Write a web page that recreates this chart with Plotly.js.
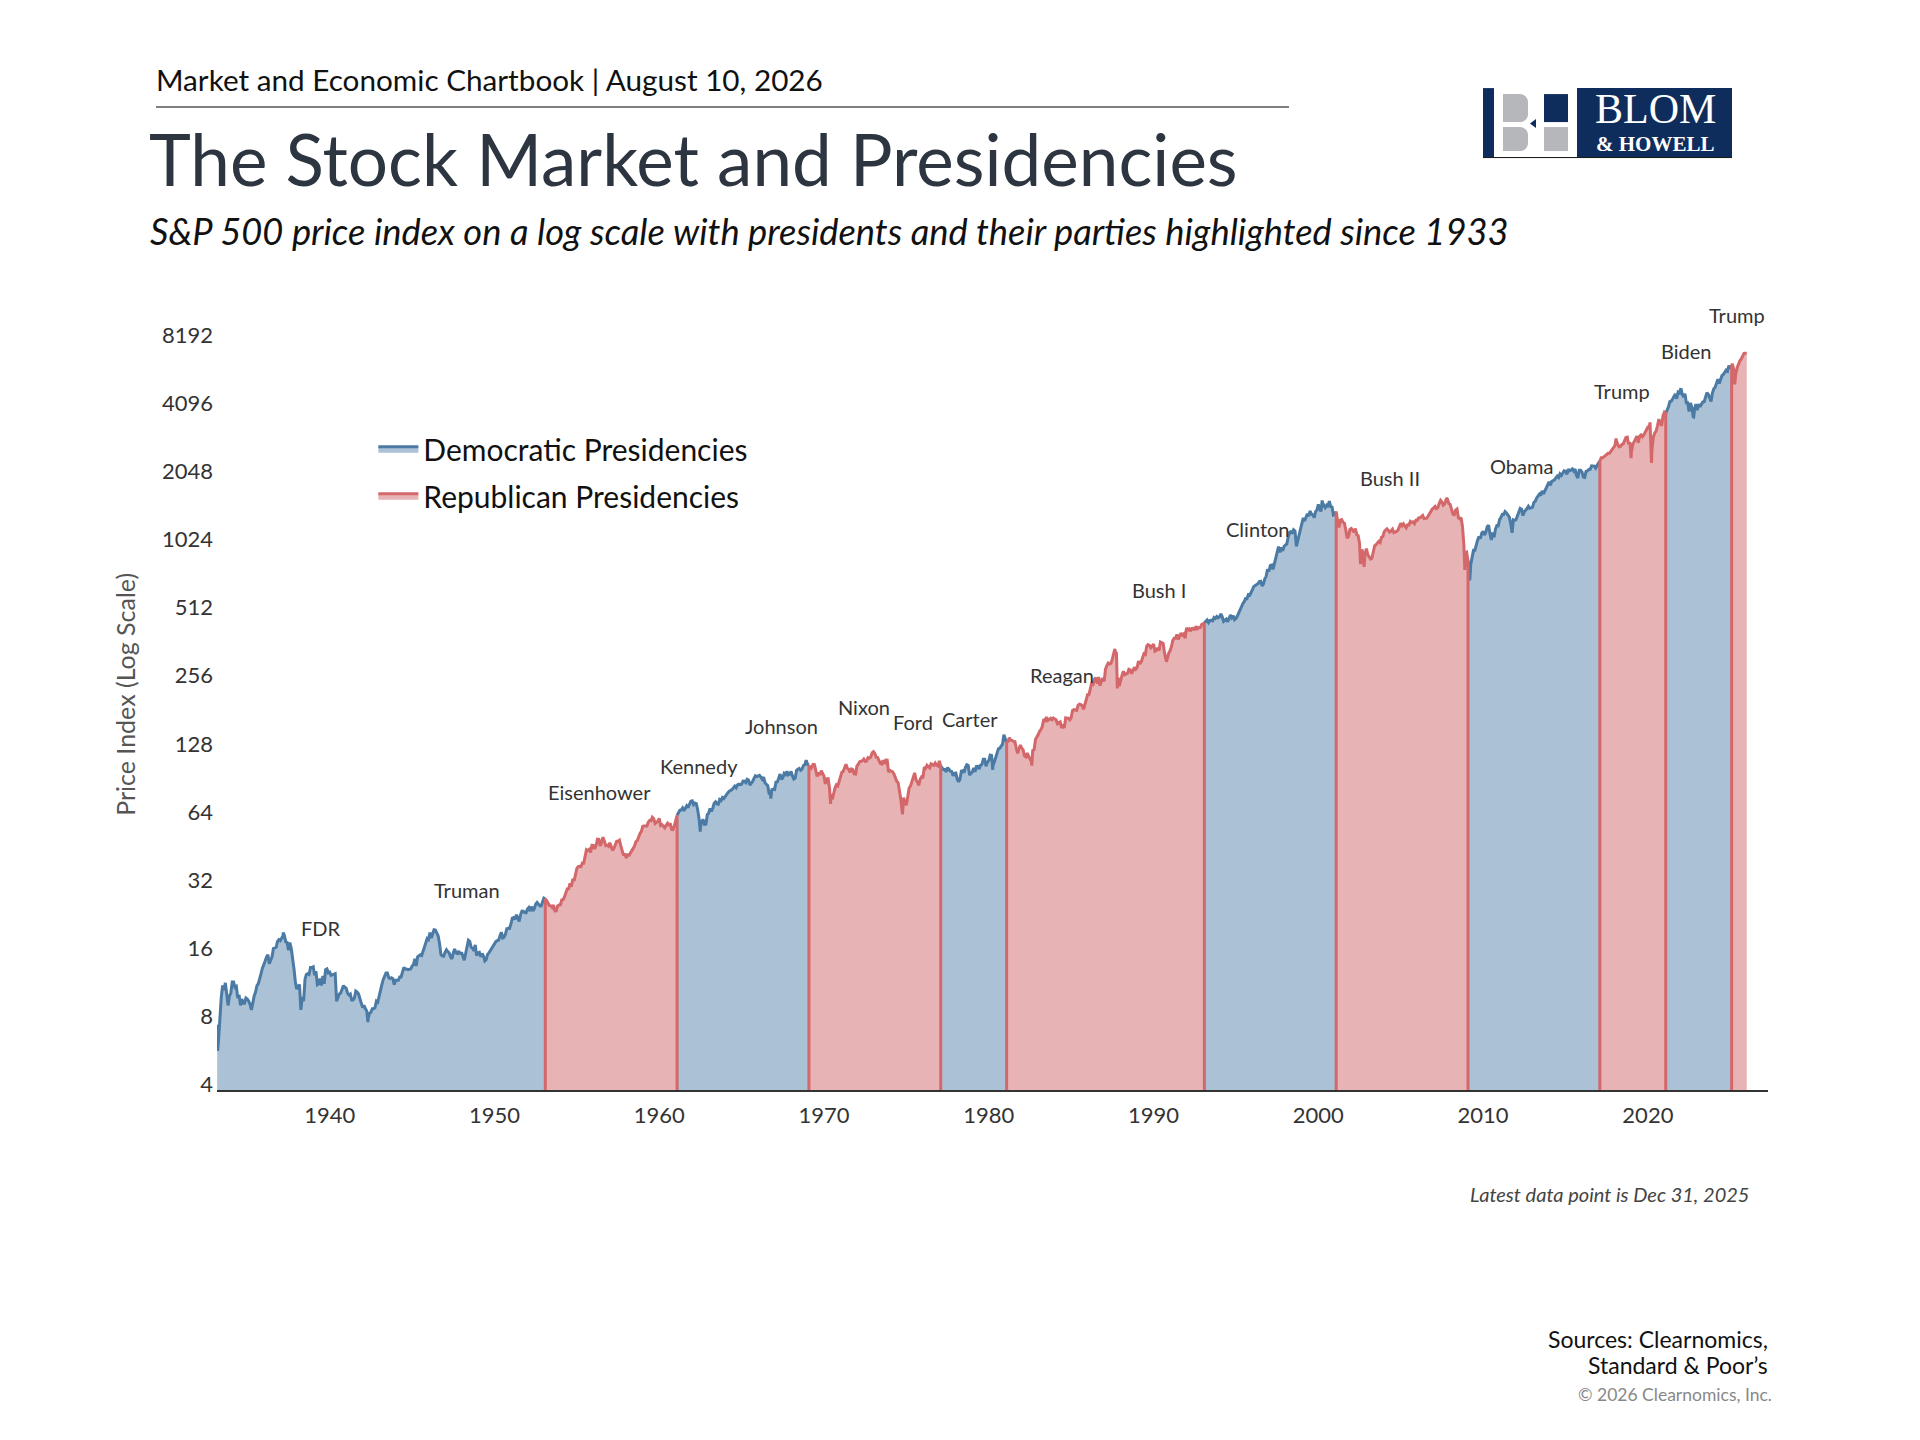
<!DOCTYPE html>
<html>
<head>
<meta charset="utf-8">
<script src="https://cdn.plot.ly/plotly-3.0.1.min.js"></script>
<style>
  html, body { margin: 0; padding: 0; background: #ffffff; }
  #chart { width: 1920px; height: 1440px; }
</style>
</head>
<body>
<div id="chart"></div>
<script>
// ---------------- DATA ----------------
// S&P 500 month-end closes, starting March 1933
const sp1930s = [6.2, 8.0, 9.6, 10.9, 10.4, 11.2, 9.8, 8.9, 9.8, 10.1,
  11.3, 11.3, 10.7, 10.8, 9.6, 9.9, 8.9, 9.5, 9.1, 9.1, 9.6, 9.5,
  9.3, 9.0, 8.5, 9.3, 9.8, 10.2, 10.9, 11.1, 11.6, 12.3, 13.0, 13.4,
  14.0, 14.6, 14.9, 13.6, 14.2, 14.6, 15.9, 16.0, 16.1, 17.1, 17.4, 17.2,
  17.6, 18.1, 18.1, 17.0, 16.9, 15.6, 16.9, 15.9, 13.8, 12.9, 11.3, 10.5,
  10.8, 11.0, 8.5, 9.7, 9.3, 11.6, 12.2, 12.3, 12.2, 13.1, 13.1, 13.2,
  12.1, 12.6, 11.0, 11.1, 11.7, 10.9, 12.0, 11.1, 12.8, 12.9, 12.4, 12.5];
const sp1940s = [12.1, 12.2, 12.2, 12.3, 9.3, 9.6, 10.0, 10.1, 10.5, 10.9, 10.7, 10.6,
  10.1, 9.9, 10.0, 9.4, 9.4, 9.6, 10.3, 10.2, 10.0, 9.4, 9.1, 8.7,
  8.9, 8.6, 8.4, 7.8, 8.2, 8.3, 8.6, 8.6, 8.7, 9.3, 9.2, 9.8,
  10.6, 11.0, 11.6, 12.1, 12.4, 12.4, 11.8, 11.7, 11.8, 11.7, 11.0, 11.5,
  11.5, 11.5, 11.9, 11.9, 12.5, 13.1, 12.9, 12.9, 12.8, 12.9, 12.9, 13.3,
  13.5, 14.3, 13.3, 14.6, 14.8, 14.9, 14.8, 15.5, 16.4, 17.0, 17.6, 17.4,
  18.7, 17.7, 18.7, 19.25, 19.2, 18.4, 18.05, 16.7, 14.96, 14.75, 14.69, 15.3,
  15.7, 15.4, 15.2, 14.6, 14.3, 15.2, 15.8, 15.2, 15.1, 15.5, 15.0, 15.3,
  14.7, 14.1, 15.1, 16.0, 17.3, 17.1, 16.1, 16.0, 15.5, 16.5, 14.8, 15.2,
  15.3, 14.6, 15.1, 14.7, 14.0, 14.2, 15.0, 15.2, 15.6, 16.0, 16.3, 16.8];
const sp1950s = [17.05, 17.22, 17.29, 18.07, 18.78, 17.69, 17.84, 18.42, 19.45, 19.53, 19.51, 20.41,
  21.66, 21.80, 21.40, 22.43, 21.52, 20.96, 22.40, 23.28, 23.26, 22.94, 22.88, 23.77,
  24.14, 23.26, 24.37, 23.32, 23.86, 24.96, 25.40, 25.03, 24.54, 24.52, 25.66, 26.57,
  26.38, 25.90, 25.29, 24.62, 24.54, 24.14, 24.75, 23.32, 23.35, 24.54, 24.76, 24.81,
  26.08, 26.15, 26.94, 28.26, 29.19, 29.21, 30.88, 29.83, 32.31, 31.68, 34.24, 35.98,
  36.63, 36.76, 36.58, 37.96, 37.91, 41.03, 43.52, 43.18, 43.67, 42.34, 45.51, 45.48,
  43.82, 45.34, 48.48, 48.38, 45.20, 46.97, 49.39, 47.51, 45.35, 45.58, 45.08, 46.67,
  44.72, 43.26, 44.11, 45.74, 47.43, 47.37, 47.91, 45.22, 42.42, 41.06, 41.72, 39.99,
  41.70, 40.84, 42.10, 43.44, 44.09, 45.24, 47.19, 47.75, 50.06, 51.33, 52.48, 55.21,
  55.42, 55.41, 55.44, 57.59, 58.68, 58.47, 60.51, 59.60, 56.88, 57.52, 58.28, 59.89];
const sp1960s = [55.61, 56.12, 55.34, 54.37, 55.83, 56.92, 55.51, 56.96, 53.52, 53.39, 55.54, 58.11,
  61.78, 63.44, 65.06, 65.31, 66.56, 64.64, 66.76, 68.07, 66.73, 68.62, 71.32, 71.55,
  68.84, 69.96, 69.55, 65.24, 59.63, 54.75, 58.23, 59.12, 56.27, 56.52, 62.26, 63.10,
  66.20, 64.29, 66.57, 69.80, 70.80, 69.37, 69.13, 72.50, 71.70, 74.01, 73.23, 75.02,
  77.04, 77.80, 78.98, 79.46, 80.37, 81.69, 83.18, 81.83, 84.18, 84.86, 84.42, 84.75,
  87.56, 87.43, 86.16, 89.11, 88.42, 84.12, 85.25, 87.17, 89.96, 92.42, 91.61, 92.43,
  92.88, 91.22, 89.23, 91.06, 86.13, 84.74, 83.60, 77.10, 76.56, 80.20, 80.45, 80.33,
  86.61, 86.78, 90.20, 94.01, 89.08, 90.64, 94.75, 93.64, 96.71, 93.30, 94.00, 96.47,
  92.24, 89.36, 90.20, 97.59, 98.68, 99.58, 97.74, 98.86, 102.67, 103.41, 108.37, 103.86,
  103.01, 98.13, 101.51, 103.69, 103.46, 97.71, 91.83, 95.51, 93.12, 97.24, 93.81, 92.06];
const sp1970s = [85.02, 89.50, 89.63, 81.52, 76.55, 72.72, 78.05, 81.52, 84.21, 83.25, 87.20, 92.15,
  95.88, 96.75, 100.31, 103.95, 99.63, 98.70, 95.58, 99.03, 98.34, 94.23, 93.99, 102.09,
  103.94, 106.57, 107.20, 107.67, 109.53, 107.14, 107.39, 111.09, 110.55, 111.58, 116.67, 118.05,
  116.03, 111.68, 111.52, 106.97, 104.95, 104.26, 108.22, 104.25, 108.43, 108.29, 95.96, 97.55,
  96.57, 96.22, 93.98, 90.31, 87.28, 86.00, 79.31, 72.15, 63.54, 73.90, 69.97, 68.56,
  76.98, 81.59, 83.36, 87.30, 91.15, 95.19, 88.75, 86.88, 83.87, 89.04, 91.24, 90.19,
  100.86, 99.71, 102.77, 101.64, 100.18, 104.28, 103.44, 102.91, 105.24, 102.90, 102.10, 107.46,
  102.03, 99.82, 98.42, 98.44, 96.12, 100.48, 98.85, 96.77, 96.53, 92.34, 94.83, 95.10,
  89.25, 87.04, 89.21, 96.83, 97.24, 95.53, 100.68, 103.29, 102.54, 93.15, 94.70, 96.11,
  99.93, 96.28, 101.59, 101.76, 99.08, 102.91, 103.81, 109.32, 109.32, 101.82, 106.16, 107.94];
const sp1980s = [114.16, 113.66, 102.09, 106.29, 111.24, 114.24, 121.67, 122.38, 125.46, 127.47, 140.52, 135.76,
  129.55, 131.27, 136.00, 132.81, 132.59, 131.21, 130.92, 122.79, 116.18, 121.89, 126.35, 122.55,
  120.40, 113.11, 111.96, 116.44, 111.88, 109.61, 107.09, 119.51, 120.42, 133.71, 138.54, 140.64,
  145.30, 148.06, 152.96, 164.42, 162.39, 168.11, 162.56, 164.40, 166.07, 163.55, 166.40, 164.93,
  163.41, 157.06, 159.18, 160.05, 150.55, 153.18, 150.66, 166.68, 166.10, 166.09, 163.58, 167.24,
  179.63, 181.18, 180.66, 179.83, 189.55, 191.85, 190.92, 188.63, 182.08, 189.82, 202.17, 211.28,
  211.78, 226.92, 238.90, 235.52, 247.35, 250.84, 236.12, 252.93, 231.32, 243.98, 249.22, 242.17,
  274.08, 284.20, 291.70, 288.36, 290.10, 304.00, 318.66, 329.80, 321.83, 251.79, 230.30, 247.08,
  257.07, 267.82, 258.89, 261.33, 262.16, 273.50, 272.02, 261.52, 271.91, 278.97, 273.70, 277.72,
  297.47, 288.86, 294.87, 309.64, 320.52, 317.98, 346.08, 351.45, 349.15, 340.36, 345.99, 353.40];
const sp1990s = [329.08, 331.89, 339.94, 330.80, 361.23, 358.02, 356.15, 322.56, 306.05, 304.00, 322.22, 330.22,
  343.93, 367.07, 375.22, 375.35, 389.83, 371.16, 387.81, 395.43, 387.86, 392.46, 375.22, 417.09,
  408.79, 412.70, 403.69, 414.95, 415.35, 408.14, 424.21, 414.03, 417.80, 418.68, 431.35, 435.71,
  438.78, 443.38, 451.67, 440.19, 450.19, 450.53, 448.13, 463.56, 458.93, 467.83, 461.79, 466.45,
  481.61, 467.14, 445.77, 450.91, 456.50, 444.27, 458.26, 475.49, 462.69, 472.35, 453.69, 459.27,
  470.42, 487.39, 500.71, 514.71, 533.40, 544.75, 562.06, 561.88, 584.41, 581.50, 605.37, 615.93,
  636.02, 640.43, 645.50, 654.17, 669.12, 670.63, 639.95, 651.99, 687.31, 705.27, 757.02, 740.74,
  786.16, 790.82, 757.12, 801.34, 848.28, 885.14, 954.29, 899.47, 947.28, 914.62, 955.40, 970.43,
  980.28, 1049.34, 1101.75, 1111.75, 1090.82, 1133.84, 1120.67, 957.28, 1017.01, 1098.67, 1163.63, 1229.23,
  1279.64, 1238.33, 1286.37, 1335.18, 1301.84, 1372.71, 1328.72, 1320.41, 1282.71, 1362.93, 1388.91, 1469.25];
const sp2000s = [1394.46, 1366.42, 1498.58, 1452.43, 1420.60, 1454.60, 1430.83, 1517.68, 1436.51, 1429.40, 1314.95, 1320.28,
  1366.01, 1239.94, 1160.33, 1249.46, 1255.82, 1224.42, 1211.23, 1133.58, 1040.94, 1059.78, 1139.45, 1148.08,
  1130.20, 1106.73, 1147.39, 1076.92, 1067.14, 989.82, 911.62, 916.07, 815.28, 885.76, 936.31, 879.82,
  855.70, 841.15, 848.18, 916.92, 963.59, 974.50, 990.31, 1008.01, 995.97, 1050.71, 1058.20, 1111.92,
  1131.13, 1144.94, 1126.21, 1107.30, 1120.68, 1140.84, 1101.72, 1104.24, 1114.58, 1130.20, 1173.82, 1211.92,
  1181.27, 1203.60, 1180.59, 1156.85, 1191.50, 1191.33, 1234.18, 1220.33, 1228.81, 1207.01, 1249.48, 1248.29,
  1280.08, 1280.66, 1294.87, 1310.61, 1270.09, 1270.20, 1276.66, 1303.82, 1335.85, 1377.94, 1400.63, 1418.30,
  1438.24, 1406.82, 1420.86, 1482.37, 1530.62, 1503.35, 1455.27, 1473.99, 1526.75, 1549.38, 1481.14, 1468.36,
  1378.55, 1330.63, 1322.70, 1385.59, 1400.38, 1280.00, 1267.38, 1282.83, 1166.36, 968.75, 896.24, 903.25,
  825.88, 735.09, 797.87, 872.81, 919.14, 919.32, 987.48, 1020.62, 1057.08, 1036.19, 1095.63, 1115.10];
const sp2010s = [1073.87, 1104.49, 1169.43, 1186.69, 1089.41, 1030.71, 1101.60, 1049.33, 1141.20, 1183.26, 1180.55, 1257.64,
  1286.12, 1327.22, 1325.83, 1363.61, 1345.20, 1320.64, 1292.28, 1218.89, 1131.42, 1253.30, 1246.96, 1257.60,
  1312.41, 1365.68, 1408.47, 1397.91, 1310.33, 1362.16, 1379.32, 1406.58, 1440.67, 1412.16, 1416.18, 1426.19,
  1498.11, 1514.68, 1569.19, 1597.57, 1630.74, 1606.28, 1685.73, 1632.97, 1681.55, 1756.54, 1805.81, 1848.36,
  1782.59, 1859.45, 1872.34, 1883.95, 1923.57, 1960.23, 1930.67, 2003.37, 1972.29, 2018.05, 2067.56, 2058.90,
  1994.99, 2104.50, 2067.89, 2085.51, 2107.39, 2063.11, 2103.84, 1972.18, 1920.03, 2079.36, 2080.41, 2043.94,
  1940.24, 1932.23, 2059.74, 2065.30, 2096.95, 2098.86, 2173.60, 2170.95, 2168.27, 2126.15, 2198.81, 2238.83,
  2278.87, 2363.64, 2362.72, 2384.20, 2411.80, 2423.41, 2470.30, 2471.65, 2519.36, 2575.26, 2647.58, 2673.61,
  2823.81, 2713.83, 2640.87, 2648.05, 2705.27, 2718.37, 2816.29, 2901.52, 2913.98, 2711.74, 2760.17, 2506.85,
  2704.10, 2784.49, 2834.40, 2945.83, 2752.06, 2941.76, 2980.38, 2926.46, 2976.74, 3037.56, 3140.98, 3230.78];
const sp2020s = [3225.52, 2954.22, 2584.59, 2912.43, 3044.31, 3100.29, 3271.12, 3500.31, 3363.00, 3269.96, 3621.63, 3756.07,
  3714.24, 3811.15, 3972.89, 4181.17, 4204.11, 4297.50, 4395.26, 4522.68, 4307.54, 4605.38, 4567.00, 4766.18,
  4515.55, 4373.94, 4530.41, 4131.93, 4132.15, 3785.38, 4130.29, 3955.00, 3585.62, 3871.98, 4080.11, 3839.50,
  4076.60, 3970.15, 4109.31, 4169.48, 4179.83, 4450.38, 4588.96, 4507.66, 4288.05, 4193.80, 4567.80, 4769.83,
  4845.65, 5096.27, 5254.35, 5035.69, 5277.51, 5460.48, 5522.30, 5648.40, 5762.48, 5705.45, 6032.38, 5881.63,
  6040.53, 5954.50, 5611.85, 5569.06, 5911.69, 6204.95, 6339.39, 6460.26, 6688.46, 6840.20, 6849.09, 6845.50];

// intra-month highs and lows visible in the chart (decimal year, index level)
const extremeDates = [1933.17, 1933.20, 1937.18, 1942.32, 1962.49, 1966.77, 1970.40, 1974.76, 1980.24, 1982.61,
  1987.65, 1987.80, 1990.78, 2000.23, 2002.56, 2002.78, 2007.78, 2008.89, 2009.19, 2010.50,
  2011.76, 2018.07, 2018.98, 2020.13, 2020.22, 2022.005, 2022.78, 2025.13, 2025.27];
const extremeValues = [7.3, 5.6, 18.7, 7.5, 52.3, 73.2, 69.3, 62.3, 98.2, 102.4,
  336.8, 224.8, 295.5, 1527.5, 797.7, 776.8, 1565.2, 752.4, 676.5, 1022.6,
  1099.2, 2872.9, 2351.1, 3386.2, 2237.4, 4796.6, 3577.0, 6144.2, 4982.8];

// party changes in the White House
const termStarts = [1933.17, 1953.05, 1961.05, 1969.05, 1977.05, 1981.05, 1993.05, 2001.05, 2009.05, 2017.05, 2021.05, 2025.05];
const termParty  = ['D', 'R', 'D', 'R', 'D', 'R', 'D', 'R', 'D', 'R', 'D', 'R'];

// president labels
const presNames  = ['FDR', 'Truman', 'Eisenhower', 'Kennedy', 'Johnson', 'Nixon', 'Ford', 'Carter', 'Reagan', 'Bush I', 'Clinton', 'Bush II', 'Obama', 'Trump', 'Biden', 'Trump'];
const presLabelX = [1939.48, 1948.35, 1956.38, 1962.42, 1967.4, 1972.4, 1975.37, 1978.86, 1984.42, 1990.3, 1996.33, 2004.35, 2012.3, 2018.4, 2022.34, 2025.38];
const presLabelY = [19.6, 28.8, 78.2, 101.8, 153.7, 185.4, 159.5, 165.6, 259, 614, 1146, 1914, 2168, 4647, 7019, 10080];

const yTicks = [4, 8, 16, 32, 64, 128, 256, 512, 1024, 2048, 4096, 8192];
const xTicks = [1940, 1950, 1960, 1970, 1980, 1990, 2000, 2010, 2020];

// ---------------- BUILD ----------------
const pts = [];
function addMonthly(arr, startYear, startMonth) {
  arr.forEach((v, i) => {
    const m = startMonth + i; // month-end, counted from startYear
    pts.push({ x: startYear + m / 12, y: v });
  });
}
addMonthly(sp1930s, 1933, 3);
addMonthly(sp1940s, 1940, 1);
addMonthly(sp1950s, 1950, 1);
addMonthly(sp1960s, 1960, 1);
addMonthly(sp1970s, 1970, 1);
addMonthly(sp1980s, 1980, 1);
addMonthly(sp1990s, 1990, 1);
addMonthly(sp2000s, 2000, 1);
addMonthly(sp2010s, 2010, 1);
addMonthly(sp2020s, 2020, 1);
extremeDates.forEach((d, i) => pts.push({ x: d, y: extremeValues[i] }));
pts.sort((a, b) => a.x - b.x);

const yRange = [0.57507, 4.07136];
const baseVal = Math.pow(10, yRange[0]);

const COL = {
  D: { line: '#4b7aa4', fill: '#abc2d6', name: 'Democratic Presidencies' },
  R: { line: '#d3676a', fill: '#e7b3b4', name: 'Republican Presidencies' }
};

const blueTraces = [], redTraces = [];
let shownD = false, shownR = false;
termStarts.forEach((s, i) => {
  const e = i + 1 < termStarts.length ? termStarts[i + 1] : Infinity;
  const seg = pts.filter(p => p.x >= s && p.x < e);
  const next = pts.find(p => p.x >= e);
  if (next) seg.push(next);
  const party = termParty[i];
  let xs = seg.map(p => p.x), ys = seg.map(p => p.y);
  if (party === 'R') {
    xs = [xs[0]].concat(xs); ys = [baseVal].concat(ys);
    if (next) { xs.push(xs[xs.length - 1]); ys.push(baseVal); }
  }
  const show = party === 'D' ? !shownD : !shownR;
  if (party === 'D') shownD = true; else shownR = true;
  const tr = {
    type: 'scatter', mode: 'lines', x: xs, y: ys,
    fill: 'tozeroy', fillcolor: COL[party].fill,
    line: { color: COL[party].line, width: 3 },
    name: COL[party].name, legendgroup: party, showlegend: show,
    hoverinfo: 'x+y'
  };
  (party === 'D' ? blueTraces : redTraces).push(tr);
});
const traces = blueTraces.concat(redTraces);

// pixel -> paper helpers (plot area: x 217..1768, y 300..1090.3)
const L = 217, R = 1768, T = 300, B = 1090.3;
const px = x => (x - L) / (R - L);
const py = y => (B - y) / (B - T);

const SANS = 'Lato, "Noto Sans", sans-serif';
const SERIF = '"Liberation Serif", "DejaVu Serif", serif';

const annotations = [];
presNames.forEach((n, i) => annotations.push({
  x: presLabelX[i], y: Math.log10(presLabelY[i]), xref: 'x', yref: 'y',
  text: n, showarrow: false, xanchor: 'center', yanchor: 'middle',
  font: { family: SANS, size: 20, color: '#333333' }
}));
function txt(t, x, y, size, color, anchor, extra) {
  annotations.push(Object.assign({
    x: px(x), y: py(y), xref: 'paper', yref: 'paper', text: t, showarrow: false,
    xanchor: anchor, yanchor: 'middle', font: { family: SANS, size: size, color: color }
  }, extra || {}));
}
txt('Market and Economic Chartbook | August 10, 2026', 154, 79, 29.7, '#111111', 'left');
txt('The Stock Market and Presidencies', 147, 158, 71, '#2d3640', 'left');
txt('<i>S&amp;P 500 price index on a log scale with presidents and their parties highlighted since 1933</i>', 148, 231, 36.3, '#111111', 'left');
txt('Price Index (Log Scale)', 125, 695, 25, '#555555', 'center', { textangle: -90 });
txt('<i>Latest data point is Dec 31, 2025</i>', 1751, 1194, 20, '#444444', 'right');
txt('Sources: Clearnomics,', 1770, 1339, 23, '#111111', 'right');
txt('Standard &amp; Poor’s', 1770, 1365, 23, '#111111', 'right');
txt('© 2026 Clearnomics, Inc.', 1774, 1395, 17.5, '#888888', 'right');
// logo wordmark
txt('BLOM', 1655, 108.5, 42, '#ffffff', 'center', { font: { family: SERIF, size: 42, color: '#ffffff' }, borderpad: 0 });
txt('<b>&amp; HOWELL</b>', 1655, 144.2, 21, '#ffffff', 'center', { font: { family: SERIF, size: 21, color: '#ffffff' }, borderpad: 0 });

const NAVY = '#0f2d5c', GRAY = '#b5b7ba';
function rect(x0, y0, x1, y1, color) {
  return { type: 'rect', xref: 'paper', yref: 'paper', x0: px(x0), x1: px(x1), y0: py(y0), y1: py(y1),
    fillcolor: color, line: { width: 0 }, layer: 'above' };
}
function pathShape(points, color) {
  const d = points.map((p, i) => (i ? 'L' : 'M') + px(p[0]) + ',' + py(p[1])).join(' ') + ' Z';
  return { type: 'path', xref: 'paper', yref: 'paper', path: d, fillcolor: color, line: { width: 0 }, layer: 'above' };
}
function bLobe(x0, y0, x1, y1, r) {
  // rectangle with rounded right side
  const pts2 = [[x0, y0], [x1 - r, y0]];
  for (let k = 0; k <= 8; k++) { const a = -Math.PI / 2 + k * Math.PI / 16; pts2.push([x1 - r + r * Math.cos(a), y0 + r + r * Math.sin(a)]); }
  for (let k = 0; k <= 8; k++) { const a = k * Math.PI / 16; pts2.push([x1 - r + r * Math.cos(a), y1 - r + r * Math.sin(a)]); }
  pts2.push([x0, y1]);
  return pts2;
}
const shapes = [
  { type: 'line', xref: 'paper', yref: 'paper', x0: px(156), x1: px(1289), y0: py(107), y1: py(107),
    line: { color: '#555555', width: 1.5 } },
  rect(1483, 88, 1494, 157, NAVY),
  pathShape(bLobe(1503, 94, 1528, 122, 8), GRAY),
  pathShape(bLobe(1503, 127, 1528, 151, 8), GRAY),
  pathShape([[1530, 123.5], [1536, 119], [1536, 128]], NAVY),
  rect(1544, 94, 1568, 122, NAVY),
  rect(1544, 127, 1568, 151, GRAY),
  rect(1577, 88, 1732, 157, NAVY),
  { type: 'line', xref: 'paper', yref: 'paper', x0: px(1483), x1: px(1732), y0: py(157.5), y1: py(157.5),
    line: { color: '#111111', width: 1 }, layer: 'above' }
];

const layout = {
  width: 1920, height: 1440,
  margin: { l: L, r: 1920 - R, t: T, b: 1440 - B, pad: 0 },
  paper_bgcolor: '#ffffff', plot_bgcolor: '#ffffff',
  showlegend: true,
  legend: { x: 0.1008, y: 0.8445, xanchor: 'left', yanchor: 'top', bgcolor: 'rgba(0,0,0,0)',
    font: { family: SANS, size: 30, color: '#111111' }, tracegroupgap: 5, itemwidth: 40,
    traceorder: 'grouped' },
  xaxis: {
    range: [1933.16, 2027.29], tickmode: 'array', tickvals: xTicks, ticktext: xTicks.map(String),
    showgrid: false, zeroline: false, showline: true, linecolor: '#333333', linewidth: 1.5,
    ticks: '', ticklabelstandoff: 5, tickfont: { family: SANS, size: 22, color: '#333333' }
  },
  yaxis: {
    type: 'log', range: yRange, tickmode: 'array', tickvals: yTicks, ticktext: yTicks.map(String),
    showgrid: false, zeroline: false, showline: false, ticks: '', ticklabelstandoff: 3,
    tickfont: { family: SANS, size: 22, color: '#333333' }
  },
  annotations: annotations,
  shapes: shapes
};

Plotly.newPlot('chart', traces, layout, { displayModeBar: false, staticPlot: true });
</script>
</body>
</html>
